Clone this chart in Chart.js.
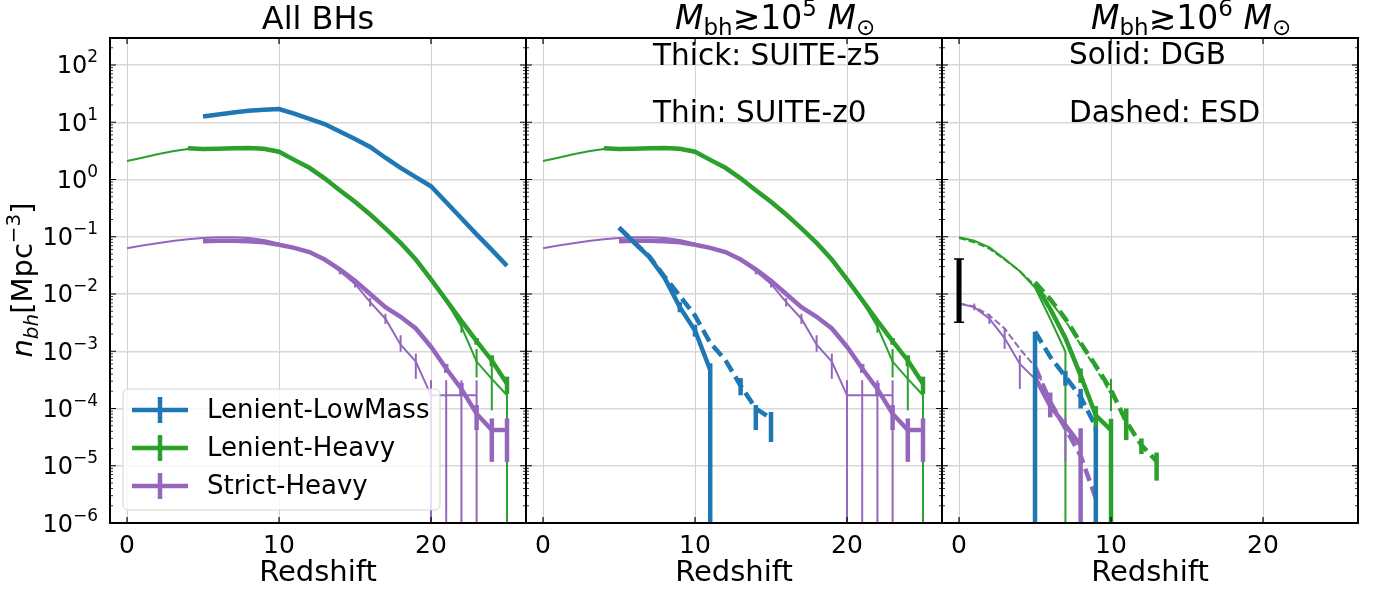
<!DOCTYPE html>
<html lang="en">
<head>
<meta charset="UTF-8">
<title>BH number density vs redshift</title>
<style>
    body { margin: 0; background: #fff; }
    #wrap { position: relative; width: 1376px; height: 591px; overflow: hidden; }
    .panel { position: absolute; top: 0; height: 591px; }
</style>
<script src="https://cdn.jsdelivr.net/npm/chart.js"></script>
</head>
<body>
<div id="wrap">
    <div class="panel" style="left:0;width:528px"><canvas id="c1"></canvas></div>
    <div class="panel" style="left:524px;width:420px"><canvas id="c2"></canvas></div>
    <div class="panel" style="left:940px;width:420px"><canvas id="c3"></canvas></div>
</div>
<script>
// ---- axes / labels ----
const xTicks = [0, 10, 20];
const yTicks = [1e-6, 1e-5, 1e-4, 1e-3, 1e-2, 1e-1, 1, 10, 100];
const legendLabels = ['Lenient-LowMass', 'Lenient-Heavy', 'Strict-Heavy'];
const obsLabel = ['Obs. compilation', ' Porras-Valverde+2025'];

// ---- panel 1 & 2: shared heavy seeds ----
const heavyThickZ = [4,5,6,7,8,9,10,11,12,13,14,15,16,17,18,19,20,21,22,23,24,25];
const heavyThickN = [3.5,3.4,3.45,3.5,3.55,3.45,3.05,2.2,1.6,1.05,0.65,0.41,0.245,0.14,0.078,0.04,0.018,0.0078,0.0034,0.0015,0.00069,0.00027];
const heavyThickErrZ = [23, 24, 25];
const heavyThickErrLo = [0.0013, 0.00055, 0.00018];
const heavyThickErrHi = [0.0017, 0.00085, 0.00036];

const heavyThinZ = [0,1,2,3,4,5,6,7,8,9,10,11,12,13,14,15,16,17,18,19,20,21,22,23,24,25];
const heavyThinN = [2.1,2.4,2.75,3.1,3.4,3.45,3.5,3.5,3.5,3.35,2.95,2.15,1.55,1.0,0.62,0.39,0.23,0.135,0.075,0.038,0.017,0.0075,0.0027,0.00066,0.00033,0.00017];
const heavyThinErrZ = [22, 23, 24, 25];
const heavyThinErrLo = [0.0021, 0.00035, 0.000093, 1e-9];
const heavyThinErrHi = [0.0034, 0.0011, 0.00074, 0.00031];

const strictThickZ = [5,6,7,8,9,10,11,12,13,14,15,16,17,18,19,20,21,22,23,24,25];
const strictThickN = [0.083,0.085,0.085,0.083,0.08,0.072,0.064,0.054,0.04,0.027,0.017,0.01,0.0059,0.004,0.0025,0.0012,0.0005,0.00022,0.000081,0.000042,0.000042];
const strictThickErrZ = [21, 22, 23, 24, 25];
const strictThickErrLo = [0.00042, 0.00017, 0.000042, 0.0000117, 0.0000117];
const strictThickErrHi = [0.0006, 0.00028, 0.000115, 0.000067, 0.000067];

const strictThinZ = [0,1,2,3,4,5,6,7,8,9,10,11,12,13,14,15,16,17,18,19,20,21,22,23];
const strictThinN = [0.063,0.07,0.077,0.084,0.09,0.095,0.098,0.098,0.095,0.088,0.076,0.066,0.054,0.04,0.025,0.015,0.0072,0.0037,0.0013,0.00066,0.00017,0.00017,0.00017,0.00017];
const strictThinErrZ = [14, 15, 16, 17, 18, 19, 20, 21, 22, 23];
const strictThinErrLo = [0.022, 0.013, 0.006, 0.003, 0.00098, 0.00033, 1e-9, 1e-9, 1e-9, 1e-9];
const strictThinErrHi = [0.028, 0.017, 0.0085, 0.0045, 0.0019, 0.00091, 0.00031, 0.00031, 0.00031, 0.00031];

// ---- panel 1: low-mass seeds, all BHs ----
const lowMassAllZ = [5,6,7,8,9,10,11,12,13,14,15,16,17,18,19,20,21,22,23,24,25];
const lowMassAllN = [12.6,13.6,14.8,15.8,16.5,17,14.1,11.4,9.3,6.9,5.1,3.7,2.4,1.6,1.1,0.76,0.4,0.21,0.11,0.059,0.031];

// ---- panel 2: low-mass seeds, Mbh >= 1e5 ----
const lowMassDgbZ = [5,6,7,8,9,10,11];
const lowMassDgbN = [0.144,0.079,0.044,0.019,0.0059,0.0023,0.00047];
const lowMassDgbErrZ = [9, 10, 11];
const lowMassDgbErrLo = [0.0048, 0.0018, 1e-9];
const lowMassDgbErrHi = [0.0072, 0.0029, 0.00062];
const lowMassEsdZ = [5,6,7,8,9,10,11,12,13,14,15];
const lowMassEsdN = [0.144,0.08,0.045,0.02,0.0093,0.0042,0.0014,0.0007,0.00025,0.0001,0.000067];
const lowMassEsdErrZ = [13, 14, 15];
const lowMassEsdErrLo = [0.00017, 0.000042, 0.000026];
const lowMassEsdErrHi = [0.00034, 0.000115, 0.000087];

// ---- panel 3: Mbh >= 1e6 ----
const heavyThinDgbZ = [0,1,2,3,4,5,6,7];
const heavyThinDgbN = [0.098,0.085,0.065,0.041,0.025,0.013,0.0037,0.00098];
const heavyThinDgbErrZ = [7];
const heavyThinDgbErrLo = [1e-9];
const heavyThinDgbErrHi = [0.00098];
const heavyThinEsdZ = [0,1,2,3,4,5,6,7,8,9,10];
const heavyThinEsdN = [0.095,0.08,0.062,0.04,0.025,0.014,0.0075,0.0034,0.0013,0.0005,0.00018];
const heavyThinEsdErrZ = [10];
const heavyThinEsdErrLo = [0.00009];
const heavyThinEsdErrHi = [0.00033];
const heavyThickDgbZ = [5,6,7,8,9,10];
const heavyThickDgbN = [0.015,0.0055,0.0017,0.00038,0.000076,0.000042];
const heavyThickDgbErrZ = [8, 9, 10];
const heavyThickDgbErrLo = [0.00028, 0.00004, 1e-9];
const heavyThickDgbErrHi = [0.0005, 0.00011, 0.000066];
const heavyThickEsdZ = [5,6,7,8,9,10,11,12,13];
const heavyThickEsdN = [0.016,0.0081,0.0037,0.0014,0.00056,0.00021,0.000059,0.000023,0.000012];
const heavyThickEsdErrZ = [11, 12, 13];
const heavyThickEsdErrLo = [0.000028, 0.000016, 0.0000055];
const heavyThickEsdErrHi = [0.0001, 0.00003, 0.000017];

const lowMass6DgbZ = [5];
const lowMass6DgbN = [0.0022];
const lowMass6DgbErrLo = [1e-9];
const lowMass6DgbErrHi = [0.0022];
const lowMass6EsdZ = [5,6,7,8,9];
const lowMass6EsdN = [0.0022,0.0008,0.00036,0.00016,0.000048];
const lowMass6EsdErrZ = [7, 8, 9];
const lowMass6EsdErrLo = [0.00025, 0.0001, 1e-9];
const lowMass6EsdErrHi = [0.00045, 0.00022, 0.000048];

const strictThinDgbZ = [0,1,2,3,4,5,6,7];
const strictThinDgbN = [0.0068,0.0059,0.0037,0.0017,0.0006,0.00033,0.00012,0.00005];
const strictThinDgbErrZ = [1, 2, 3, 4, 7];
const strictThinDgbErrLo = [0.0052, 0.003, 0.0011, 0.00022, 0.000012];
const strictThinDgbErrHi = [0.0068, 0.0045, 0.0025, 0.00085, 0.00007];
const strictThinEsdZ = [0,1,2,3,4,5,6];
const strictThinEsdN = [0.0068,0.006,0.0042,0.0025,0.0011,0.00054,0.00014];
const strictThickDgbZ = [5,6,7,8];
const strictThickDgbN = [0.00035,0.00011,0.000051,0.000023];
const strictThickDgbErrZ = [6, 8];
const strictThickDgbErrLo = [0.00007, 1e-9];
const strictThickDgbErrHi = [0.00019, 0.000045];
const strictThickEsdZ = [5,6,7,8,9];
const strictThickEsdN = [0.00054,0.00013,0.000045,0.000015,0.0000027];

const obsZ = [0];
const obsN = [0.0115];
const obsLo = [0.0032];
const obsHi = [0.041];

// ---- styling ----
const BLUE = '#1f77b4', GREEN = '#2ca02c', PURPLE = '#9467bd';
const THICK = 4.5, THIN = 2;
const DASH_THICK = [13, 6], DASH_THIN = [7, 3];
const FONT = '"DejaVu Sans", sans-serif';

Chart.defaults.font.family = FONT;
Chart.defaults.color = '#000';

function series(z, n, color, width, dash, errZ, lo, hi) {
    return {
        data: z.map((v, i) => ({ x: v, y: n[i] })),
        borderColor: color,
        backgroundColor: color,
        borderWidth: width,
        borderDash: dash || [],
        pointRadius: 0,
        tension: 0,
        fill: false,
        err: errZ ? { z: errZ, lo: lo, hi: hi } : null
    };
}

// vertical error bars, placed through the chart scales
const errorBars = {
    id: 'errorBars',
    afterDatasetsDraw(chart) {
        const { ctx, chartArea: a, scales: { x, y } } = chart;
        ctx.save();
        ctx.beginPath();
        ctx.rect(a.left, a.top, a.right - a.left, a.bottom - a.top);
        ctx.clip();
        chart.data.datasets.forEach(ds => {
            if (!ds.err) return;
            ctx.strokeStyle = ds.borderColor;
            ctx.setLineDash([]);
            ds.err.z.forEach((z, i) => {
                const px = x.getPixelForValue(z);
                const y0 = y.getPixelForValue(ds.err.lo[i]);
                const y1 = y.getPixelForValue(ds.err.hi[i]);
                ctx.lineWidth = ds.borderWidth;
                ctx.beginPath();
                ctx.moveTo(px, y0);
                ctx.lineTo(px, y1);
                ctx.stroke();
                if (ds.capWidth) {
                    ctx.lineWidth = 1.5;
                    ctx.beginPath();
                    ctx.moveTo(px - ds.capWidth / 2, y0); ctx.lineTo(px + ds.capWidth / 2, y0);
                    ctx.moveTo(px - ds.capWidth / 2, y1); ctx.lineTo(px + ds.capWidth / 2, y1);
                    ctx.stroke();
                }
            });
        });
        ctx.restore();
    }
};

function drawParts(ctx, parts, x, y) {
    let cx = x;
    parts.forEach(p => {
        ctx.font = p[1];
        ctx.fillText(p[0], cx, y + p[2]);
        cx += ctx.measureText(p[0]).width;
    });
}

function partsWidth(ctx, parts) {
    let w = 0;
    parts.forEach(p => { ctx.font = p[1]; w += ctx.measureText(p[0]).width; });
    return w;
}

function massTitle(exp) {
    return [
        ['M', 'italic 33px ' + FONT, 0],
        ['bh', '23px ' + FONT, 6],
        ['\u2273', '33px ' + FONT, 0],
        ['10', '33px ' + FONT, 0],
        [exp, '23px ' + FONT, -13],
        [' ', '33px ' + FONT, 0],
        ['M', 'italic 33px ' + FONT, 0],
        ['\u2299', '23px ' + FONT, 6]
    ];
}

function drawYTitle(ctx) {
    const parts = [
        ['n', 'italic 29px ' + FONT, 0],
        ['bh', 'italic 20px ' + FONT, 6],
        ['[Mpc', '29px ' + FONT, 0],
        ['\u22123', '20px ' + FONT, -12],
        [']', '29px ' + FONT, 0]
    ];
    ctx.save();
    ctx.translate(32, 280);
    ctx.rotate(-Math.PI / 2);
    ctx.textAlign = 'left';
    ctx.textBaseline = 'alphabetic';
    drawParts(ctx, parts, -partsWidth(ctx, parts) / 2, 0);
    ctx.restore();
}

// "10" with a raised exponent, right-aligned against the axis
function drawYTickLabels(ctx, y) {
    ctx.textAlign = 'left';
    ctx.textBaseline = 'alphabetic';
    yTicks.forEach(v => {
        const e = Math.round(Math.log10(v));
        const parts = [
            ['10', '24px ' + FONT, 0],
            [String(e).replace('-', '\u2212'), '17px ' + FONT, -11]
        ];
        const py = y.getPixelForValue(v);
        drawParts(ctx, parts, 98 - partsWidth(ctx, parts), py + 8.5);
    });
}

function drawMainLegend(ctx) {
    ctx.beginPath();
    ctx.roundRect(123, 389, 317, 121, 5);
    ctx.fillStyle = 'rgba(255,255,255,0.8)';
    ctx.fill();
    ctx.strokeStyle = '#d4d4d4';
    ctx.lineWidth = 1;
    ctx.stroke();
    const colors = [BLUE, GREEN, PURPLE];
    legendLabels.forEach((t, i) => {
        const y = 410 + i * 38;
        ctx.strokeStyle = colors[i];
        ctx.lineWidth = THICK;
        ctx.beginPath();
        ctx.moveTo(132, y); ctx.lineTo(188, y);
        ctx.moveTo(160, y - 13); ctx.lineTo(160, y + 13);
        ctx.stroke();
        ctx.fillStyle = '#000';
        ctx.font = '26px ' + FONT;
        ctx.textAlign = 'left';
        ctx.textBaseline = 'middle';
        ctx.fillText(t, 207, y + 1);
    });
}

function drawObsLegend(ctx) {
    ctx.beginPath();
    ctx.roundRect(984, 163, 360, 69, 5);
    ctx.fillStyle = 'rgba(255,255,255,0.8)';
    ctx.fill();
    ctx.strokeStyle = '#d4d4d4';
    ctx.lineWidth = 1;
    ctx.stroke();
    ctx.strokeStyle = '#000';
    ctx.lineWidth = 4.5;
    ctx.beginPath();
    ctx.moveTo(1017, 187); ctx.lineTo(1017, 211);
    ctx.stroke();
    ctx.lineWidth = 1.5;
    ctx.beginPath();
    ctx.moveTo(1012, 187); ctx.lineTo(1022, 187);
    ctx.moveTo(1012, 211); ctx.lineTo(1022, 211);
    ctx.stroke();
    ctx.fillStyle = '#000';
    ctx.font = '23.5px ' + FONT;
    ctx.textAlign = 'left';
    ctx.textBaseline = 'middle';
    ctx.fillText(obsLabel[0], 1061, 183);
    ctx.fillText(obsLabel[1], 1061, 210);
}

// frame, ticks, titles, notes, legends
const decor = {
    id: 'decor',
    afterDraw(chart, args, o) {
        const { ctx, chartArea: a, scales: { x, y } } = chart;
        ctx.save();
        ctx.strokeStyle = '#000';
        // inward ticks
        ctx.lineWidth = 1.2;
        ctx.beginPath();
        yTicks.forEach(v => {
            const py = y.getPixelForValue(v);
            ctx.moveTo(a.left, py); ctx.lineTo(a.left + 6, py);
            ctx.moveTo(a.right, py); ctx.lineTo(a.right - 6, py);
        });
        xTicks.forEach(v => {
            const px = x.getPixelForValue(v);
            ctx.moveTo(px, a.bottom); ctx.lineTo(px, a.bottom - 6);
            ctx.moveTo(px, a.top); ctx.lineTo(px, a.top + 6);
        });
        ctx.stroke();
        ctx.lineWidth = 0.8;
        ctx.beginPath();
        for (let d = -6; d <= 2; d++) {
            for (let k = 2; k <= 9; k++) {
                const v = k * Math.pow(10, d);
                if (v > y.max) continue;
                const py = y.getPixelForValue(v);
                ctx.moveTo(a.left, py); ctx.lineTo(a.left + 3, py);
                ctx.moveTo(a.right, py); ctx.lineTo(a.right - 3, py);
            }
        }
        ctx.stroke();
        // frame
        ctx.lineWidth = 2;
        ctx.strokeRect(a.left, a.top, a.right - a.left, a.bottom - a.top);

        ctx.fillStyle = '#000';
        ctx.textBaseline = 'alphabetic';
        if (o.title) {
            ctx.font = '32px ' + FONT;
            ctx.textAlign = 'center';
            ctx.fillText(o.title, (a.left + a.right) / 2, 29);
        }
        if (o.massExp) {
            ctx.textAlign = 'left';
            drawParts(ctx, massTitle(o.massExp), a.left + 149, 29);
        }
        ctx.font = '29.5px ' + FONT;
        ctx.textAlign = 'left';
        (o.notes || []).forEach(n => ctx.fillText(n.text, a.left + 127, n.y));
        ctx.font = '29px ' + FONT;
        ctx.textAlign = 'center';
        ctx.fillText('Redshift', (a.left + a.right) / 2, 581);
        if (o.yTitle) {
            drawYTitle(ctx);
            drawYTickLabels(ctx, y);
        }
        if (o.legend) o.legend(ctx);
        ctx.restore();
    }
};

function scales(showY) {
    return {
        x: {
            type: 'linear', min: -1.12, max: 26.25,
            afterBuildTicks: s => { s.ticks = xTicks.map(v => ({ value: v })); },
            afterFit: s => { s.height = 68; },
            grid: { color: '#d2d2d2', lineWidth: 1, drawTicks: false },
            border: { display: false },
            ticks: { color: '#000', font: { size: 25 }, padding: 8, maxRotation: 0, autoSkip: false }
        },
        y: {
            type: 'logarithmic', min: 1e-6, max: 296,
            afterBuildTicks: s => { s.ticks = yTicks.map(v => ({ value: v })); },
            afterFit: s => { s.width = showY ? 110 : 0; },
            grid: { color: '#d8d8d8', lineWidth: 1.4, drawTicks: false },
            border: { display: false },
            ticks: { display: false }
        }
    };
}

function makeChart(id, datasets, showY, padLeft, deco) {
    return new Chart(document.getElementById(id), {
        type: 'line',
        data: { datasets: datasets },
        options: {
            responsive: true,
            maintainAspectRatio: false,
            animation: false,
            events: [],
            layout: { padding: { top: 38, right: 2, left: padLeft, bottom: 0 } },
            scales: scales(showY),
            plugins: { legend: { display: false }, tooltip: { enabled: false }, decor: deco }
        },
        plugins: [errorBars, decor]
    });
}

function heavyAndStrict() {
    return [
        series(heavyThickZ, heavyThickN, GREEN, THICK, null, heavyThickErrZ, heavyThickErrLo, heavyThickErrHi),
        series(heavyThinZ, heavyThinN, GREEN, THIN, null, heavyThinErrZ, heavyThinErrLo, heavyThinErrHi),
        series(strictThickZ, strictThickN, PURPLE, THICK, null, strictThickErrZ, strictThickErrLo, strictThickErrHi),
        series(strictThinZ, strictThinN, PURPLE, THIN, null, strictThinErrZ, strictThinErrLo, strictThinErrHi)
    ];
}

makeChart('c1', [
    series(lowMassAllZ, lowMassAllN, BLUE, THICK)
].concat(heavyAndStrict()), true, 0, { title: 'All BHs', yTitle: true, legend: drawMainLegend });

makeChart('c2', [
    series(lowMassDgbZ, lowMassDgbN, BLUE, THICK, null, lowMassDgbErrZ, lowMassDgbErrLo, lowMassDgbErrHi),
    series(lowMassEsdZ, lowMassEsdN, BLUE, THICK, DASH_THICK, lowMassEsdErrZ, lowMassEsdErrLo, lowMassEsdErrHi)
].concat(heavyAndStrict()), false, 2, {
    massExp: '5',
    notes: [{ text: 'Thick: SUITE-z5', y: 65 }, { text: 'Thin: SUITE-z0', y: 122 }]
});

const obsSeries = series(obsZ, obsN, '#000', 5, null, obsZ, obsLo, obsHi);
obsSeries.showLine = false;
obsSeries.capWidth = 10;

makeChart('c3', [
    series(heavyThinDgbZ, heavyThinDgbN, GREEN, THIN, null, heavyThinDgbErrZ, heavyThinDgbErrLo, heavyThinDgbErrHi),
    series(heavyThinEsdZ, heavyThinEsdN, GREEN, THIN, DASH_THIN, heavyThinEsdErrZ, heavyThinEsdErrLo, heavyThinEsdErrHi),
    series(heavyThickDgbZ, heavyThickDgbN, GREEN, THICK, null, heavyThickDgbErrZ, heavyThickDgbErrLo, heavyThickDgbErrHi),
    series(heavyThickEsdZ, heavyThickEsdN, GREEN, THICK, DASH_THICK, heavyThickEsdErrZ, heavyThickEsdErrLo, heavyThickEsdErrHi),
    series(lowMass6DgbZ, lowMass6DgbN, BLUE, THICK, null, lowMass6DgbZ, lowMass6DgbErrLo, lowMass6DgbErrHi),
    series(lowMass6EsdZ, lowMass6EsdN, BLUE, THICK, DASH_THICK, lowMass6EsdErrZ, lowMass6EsdErrLo, lowMass6EsdErrHi),
    series(strictThinDgbZ, strictThinDgbN, PURPLE, THIN, null, strictThinDgbErrZ, strictThinDgbErrLo, strictThinDgbErrHi),
    series(strictThinEsdZ, strictThinEsdN, PURPLE, THIN, DASH_THIN),
    series(strictThickDgbZ, strictThickDgbN, PURPLE, THICK, null, strictThickDgbErrZ, strictThickDgbErrLo, strictThickDgbErrHi),
    series(strictThickEsdZ, strictThickEsdN, PURPLE, THICK, DASH_THICK),
    obsSeries
], false, 2, {
    massExp: '6',
    notes: [{ text: 'Solid: DGB', y: 64 }, { text: 'Dashed: ESD', y: 122 }],
    legend: drawObsLegend
});
</script>
</body>
</html>
